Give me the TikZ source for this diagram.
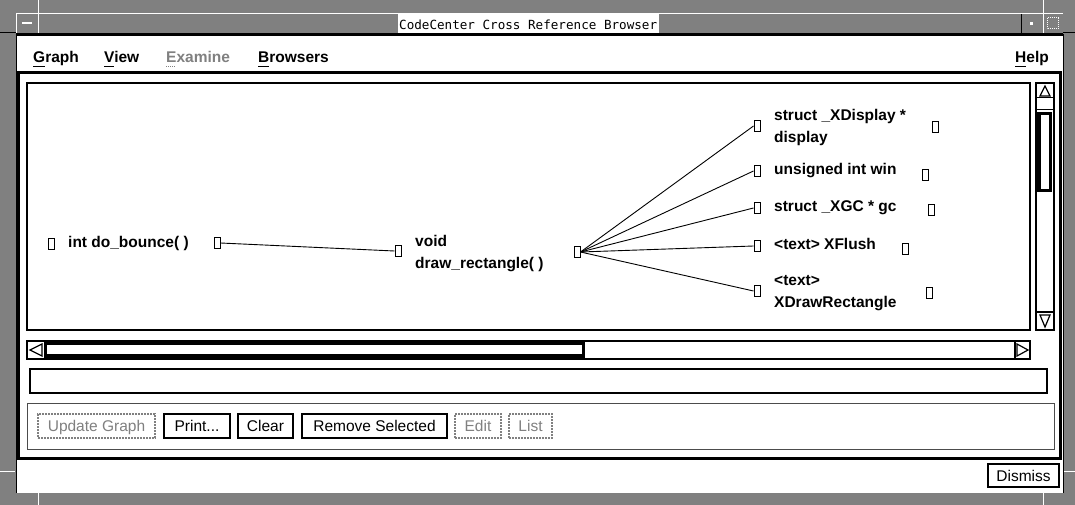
\documentclass[tikz,border=0pt]{standalone}
\usepackage{fontspec}
\setmainfont{Liberation Sans}
\newfontfamily\monofont{DejaVu Sans Mono}
\definecolor{stip}{gray}{0.5}
\definecolor{dimtext}{gray}{0.5}
\begin{document}
\begin{tikzpicture}[x=1pt,y=-1pt,
  lbl/.style={font=\fontsize{15.5}{18}\selectfont\bfseries, inner sep=0pt, anchor=base west},
  menu/.style={font=\fontsize{15.5}{18}\selectfont\bfseries, inner sep=0pt, anchor=base west},
  pin/.style={draw, line width=1pt, minimum width=6pt, minimum height=11pt, inner sep=0pt, fill=white},
  edge/.style={line width=0.9pt},
  btn/.style={draw, line width=2pt, font=\fontsize{15.5}{18}\selectfont, inner sep=0pt, text height=11pt, text depth=0pt, fill=white},
  dimbtn/.style={btn, draw=dimtext, densely dotted, line width=1.5pt, text=dimtext},
  frameline/.style={white, line width=1pt},
  thick2/.style={line width=2pt}
]
\useasboundingbox (0,0) rectangle (1075,505);
% window frame (stippled)
\fill[stip] (0,0) rectangle (1075,505);
\draw[frameline] (16,14) -- (1063,14);
\draw[frameline] (38,0) -- (38,33);
\draw[frameline] (16,14) -- (16,33);
\draw[frameline] (1043,0) -- (1043,33);
\draw[black, line width=1pt] (1021,14) -- (1021,33);
\draw[black, line width=1pt] (0,33) -- (16,33);
\draw[black, line width=1pt] (1063,33) -- (1075,33);
\draw[frameline] (0,471) -- (15,471);
\draw[frameline] (1064,471) -- (1075,471);
\draw[frameline] (38,493) -- (38,505);
\draw[frameline] (1043,493) -- (1043,505);
% title bar items
\fill[white] (22,22) rectangle (32,24);
\fill[white] (1030,22) rectangle (1033,25);
\draw[white, densely dotted, line width=1pt] (1047,18) rectangle (1058,29);
\node[fill=white, inner sep=0pt, minimum width=261pt, minimum height=19pt, anchor=north west] (titlebox) at (398,14) {};
\node[anchor=base west, inner sep=0pt, font=\monofont\fontsize{12.6}{14}\selectfont] (title) at (399,30) {CodeCenter Cross Reference Browser};
% main white area
\fill[white] (16,34) rectangle (1063,493);
\draw[line width=2.5pt] (16,34.5) -- (1063,34.5);
\draw[line width=1pt] (16,34) -- (16,493);
\draw[line width=1pt] (1063,34) -- (1063,493);
% form border
\draw[line width=2.5pt] (18.5,72.5) rectangle (1060.5,458.5);
% menu bar
\node[menu] (mgraph) at (33,62.5) {Graph};
\node[menu] (mview) at (104,62.5) {View};
\node[menu, text=dimtext] (mexam) at (166,62.5) {Examine};
\node[menu] (mbrow) at (258,62.5) {Browsers};
\node[menu] (mhelp) at (1015,62.5) {Help};
\draw[line width=1pt] ([yshift=-4pt]mgraph.base west) -- ++(12,0);
\draw[line width=1pt] ([yshift=-4pt]mview.base west) -- ++(10,0);
\draw[line width=1pt, dimtext, densely dotted] ([yshift=-4pt]mexam.base west) -- ++(10,0);
\draw[line width=1pt] ([yshift=-4pt]mbrow.base west) -- ++(11,0);
\draw[line width=1pt] ([yshift=-4pt]mhelp.base west) -- ++(11,0);
% graph area
\draw[line width=2.5pt] (27,83) rectangle (1030,330);
% vertical scrollbar
\draw[thick2] (1036,83) rectangle (1054,330);
\draw[line width=1pt] (1036,98) -- (1054,98);
\draw[line width=1pt] (1036,110) -- (1054,110);
\draw[line width=1.2pt] (1045,86) -- (1040,96) -- (1050,96) -- cycle;
\draw[line width=3.5pt, fill=white] (1039,113.5) rectangle (1050.5,190.5);
\draw[thick2] (1036,312) -- (1054,312);
\draw[line width=1.2pt] (1040,315) -- (1050,315) -- (1045,327) -- cycle;
% horizontal scrollbar
\draw[thick2] (27,341) rectangle (1030,359);
\draw[line width=1.2pt] (30,350) -- (42,344) -- (42,356) -- cycle;
\fill (44,341) rectangle (585,359);
\fill[white] (47,345) rectangle (582,354);
\draw[thick2] (1015,341) -- (1015,359);
\draw[line width=1.2pt] (1028,350) -- (1017,344) -- (1017,356) -- cycle;
% text field
\draw[thick2] (30,369) rectangle (1047,393);
% button panel
\draw[line width=1pt, black!70] (27,403) rectangle (1054,449);
\node[dimbtn, minimum width=117pt, minimum height=24pt] (upd) at (96.5,426) {Update Graph};
\node[btn, minimum width=66pt, minimum height=24pt] (print) at (197,426) {Print...};
\node[btn, minimum width=55pt, minimum height=24pt] (clear) at (265.5,426) {Clear};
\node[btn, minimum width=145pt, minimum height=24pt] (remove) at (374.5,426) {Remove Selected};
\node[dimbtn, minimum width=46pt, minimum height=24pt] (edit) at (478,426) {Edit};
\node[dimbtn, minimum width=43pt, minimum height=24pt] (list) at (530.5,426) {List};
\node[btn, minimum width=71pt, minimum height=23pt] (dismiss) at (1023.5,475.5) {Dismiss};
% graph nodes
\node[pin] (p1L) at (51,244) {};
\node[lbl] (n1) at (68,247.5) {int do\_bounce( )};
\node[pin] (p1R) at (217,243) {};
\node[pin] (p2L) at (398,251) {};
\node[lbl] (n2a) at (415,246.5) {void};
\node[lbl] (n2b) at (415,268) {draw\_rectangle( )};
\node[pin] (p2R) at (577,252) {};
\node[pin] (t1L) at (757,126) {};
\node[lbl] (m1a) at (774,120.7) {struct \_XDisplay *};
\node[lbl] (m1b) at (774,142.3) {display};
\node[pin] (t1R) at (935,127) {};
\node[pin] (t2L) at (757,171) {};
\node[lbl] (m2) at (774,174.3) {unsigned int win};
\node[pin] (t2R) at (925,175) {};
\node[pin] (t3L) at (757,208) {};
\node[lbl] (m3) at (774,211.7) {struct \_XGC * gc};
\node[pin] (t3R) at (931,210) {};
\node[pin] (t4L) at (757,246) {};
\node[lbl] (m4) at (774,249) {<text> XFlush};
\node[pin] (t4R) at (905,249) {};
\node[pin] (t5L) at (757,291) {};
\node[lbl] (m5a) at (774,285.7) {<text>};
\node[lbl] (m5b) at (774,307.3) {XDrawRectangle};
\node[pin] (t5R) at (929,293) {};
% connectors
\draw[edge] (p1R.east) -- (p2L.west);
\draw[edge] (p2R.east) -- (t1L.west);
\draw[edge] (p2R.east) -- (t2L.west);
\draw[edge] (p2R.east) -- (t3L.west);
\draw[edge] (p2R.east) -- (t4L.west);
\draw[edge] (p2R.east) -- (t5L.west);
\end{tikzpicture}
\end{document}
